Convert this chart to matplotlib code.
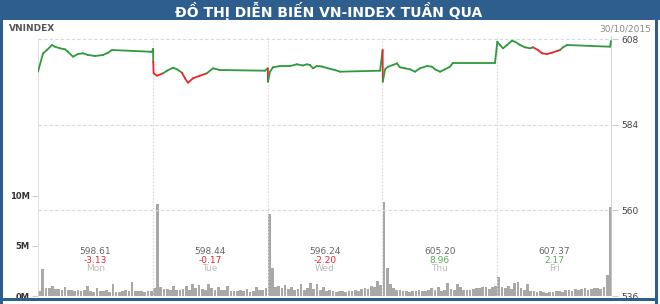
import matplotlib
matplotlib.use("Agg")
import matplotlib.pyplot as plt
from matplotlib.patches import Rectangle
from matplotlib import font_manager
import numpy as np

# ---------------- data ----------------
days = ["Mon", "Tue", "Wed", "Thu", "Fri"]
closes = ["598.61", "598.44", "596.24", "605.20", "607.37"]
changes = [-3.13, -0.17, -2.20, 8.96, 2.17]

price_ticks = [536, 560, 584, 608]
vol_ticks = [0, 5, 10]
vol_tick_labels = ["0M", "5M", "10M"]

# intraday price path per day: time as fraction of the day, price, colour flag
mon_t = [0, .044, .078, .122, .148, .192, .235, .261, .305, .348, .392, .436, .497, .566, .610, .645, .976, .993]
mon_p = [598.84, 603.99, 604.92, 606.32, 605.84, 605.39, 605.11, 604.44, 603.04, 603.80, 603.99, 603.52, 603.24, 603.52, 604.16, 604.92, 604.44, 604.36]
mon_c = ["g"] * 18

tue_t = [.002, .004, .007, .037, .089, .124, .176, .211, .254, .280, .307, .350, .411, .471, .524, .585, .977]
tue_p = [605.20, 601.56, 598.39, 597.72, 598.39, 599.12, 599.96, 599.51, 598.56, 596.99, 595.76, 596.99, 597.72, 598.39, 599.79, 599.31, 599.12]
tue_c = ["g", "g", "r", "r", "r", "g", "g", "g", "g", "r", "r", "r", "r", "r", "g", "g", "g"]

wed_t = [.002, .0035, .021, .047, .108, .195, .256, .308, .343, .369, .395, .430, .474, .526, .587, .631, .980]
wed_p = [599.79, 596.04, 598.84, 600.07, 600.43, 600.43, 600.91, 600.58, 600.91, 600.72, 599.79, 600.43, 600.29, 599.79, 599.31, 598.84, 599.12]
wed_c = ["g", "r"] + ["g"] * 15

thu_t = [.002, .0035, .023, .049, .092, .127, .153, .197, .240, .284, .328, .389, .432, .458, .502, .545, .589, .615, .981]
thu_p = [604.92, 596.04, 599.51, 600.24, 600.72, 601.19, 600.07, 599.79, 599.51, 598.84, 599.79, 600.43, 600.24, 599.51, 598.84, 599.51, 600.24, 601.36, 601.36]
thu_c = ["g", "r"] + ["g"] * 17

fri_t = [.001, .024, .051, .085, .129, .155, .199, .242, .286, .312, .355, .390, .434, .477, .521, .547, .573, .608, .983, .991]
fri_p = [607.24, 606.32, 605.39, 606.32, 607.52, 607.24, 606.32, 605.67, 605.39, 605.67, 604.92, 603.99, 603.80, 604.16, 604.64, 604.92, 605.67, 606.32, 605.84, 607.44]
fri_c = ["g"] * 10 + ["r"] * 6 + ["g"] * 4

# volume (millions of shares) per interval, 36 intervals per day
mon_v = [0.5, 2.7, 0.8, 0.75, 1.0, 0.7, 0.65, 0.6, 0.9, 0.55, 0.6, 0.5, 0.55, 0.45, 0.6, 0.95, 0.5, 0.4,
         0.8, 0.45, 0.5, 0.55, 0.4, 1.15, 0.4, 0.35, 0.45, 0.6, 0.5, 1.35, 0.45, 0.5, 0.45, 0.4, 0.5, 0.45]
tue_v = [0.8, 9.2, 0.9, 0.7, 0.65, 0.6, 0.95, 0.6, 0.55, 0.7, 1.0, 0.6, 1.15, 0.8, 1.1, 0.7, 0.6, 1.2,
         0.75, 0.6, 0.9, 0.55, 0.6, 1.0, 0.5, 0.45, 0.5, 0.55, 0.45, 0.7, 0.4, 0.5, 0.9, 0.6, 0.55, 0.8]
wed_v = [8.2, 2.8, 0.9, 1.0, 0.8, 1.1, 0.7, 0.9, 0.6, 0.7, 1.2, 0.6, 0.8, 1.3, 0.7, 1.2, 0.6, 0.9,
         0.5, 0.6, 0.45, 0.4, 0.45, 0.5, 0.4, 0.5, 0.45, 0.6, 0.5, 0.7, 0.8, 0.65, 1.0, 0.9, 1.5, 1.1]
thu_v = [9.4, 2.8, 1.2, 0.8, 0.6, 0.55, 0.5, 0.45, 0.4, 0.5, 0.45, 0.6, 0.5, 0.45, 0.6, 0.8, 0.6, 0.9,
         0.5, 0.6, 1.3, 0.7, 0.6, 1.2, 0.9, 0.6, 0.55, 0.6, 0.7, 0.8, 0.75, 0.9, 0.85, 0.7, 0.9, 1.0]
fri_v = [1.9, 0.9, 0.8, 1.0, 0.7, 1.3, 1.4, 0.8, 0.6, 1.2, 0.5, 0.45, 0.4, 0.5, 0.35, 0.3, 0.4, 0.35,
         0.45, 0.5, 0.4, 0.6, 0.55, 0.5, 0.7, 0.6, 0.65, 0.8, 0.6, 0.7, 0.75, 0.8, 0.7, 0.85, 2.1, 8.9]

# ---------------- style ----------------
W, H = 660, 304
BLUE = "#2d5e8e"
GREEN = "#2f9a3c"
RED = "#e8262b"
BAR = "#a8a8a8"
GRID = "#d9d9d9"

avail = {f.name for f in font_manager.fontManager.ttflist}
title_font = ["Liberation Sans Narrow", "DejaVu Sans"] if "Liberation Sans Narrow" in avail else ["DejaVu Sans"]
plt.rcParams["font.family"] = ["DejaVu Sans"]

fig = plt.figure(figsize=(W / 100, H / 100), dpi=100)
fig.patch.set_facecolor("white")

def fr(x0, y0, x1, y1, color):
    fig.patches.append(Rectangle((x0 / W, 1 - y1 / H), (x1 - x0) / W, (y1 - y0) / H,
                                 transform=fig.transFigure, color=color, zorder=0, linewidth=0))

# frame + title bar
fr(0, 0, W, 20, BLUE)
fr(0, 0, 3, H, BLUE)
fr(655, 0, 658, H, BLUE)
fr(0, 298, 658, 301, BLUE)

fig.text(329 / W, 1 - 10.5 / H, "ĐỒ THỊ DIỄN BIẾN VN-INDEX TUẦN QUA", ha="center", va="center",
         color="white", fontsize=10, fontweight="bold", family=title_font)
fig.text(9 / W, 1 - 28.5 / H, "VNINDEX", ha="left", va="center", color="#555555",
         fontsize=6.5, fontweight="bold")
fig.text(651 / W, 1 - 28.5 / H, "30/10/2015", ha="right", va="center", color="#8a8a8a", fontsize=6.5)

# axes
ax = fig.add_axes([38 / W, 1 - 296 / H, (612 - 38) / W, (296 - 36) / H])
ax.set_xlim(0, 5)
ax.set_ylim(0, 260 / 10.05)
ax2 = ax.twinx()
ax2.set_ylim(536, 608 + 3 / 3.569)
ax2.set_xlim(0, 5)

for a in (ax, ax2):
    for s in a.spines.values():
        s.set_visible(False)
    a.set_xticks([])
ax.set_facecolor("none")

# volume bars
for d, vols in enumerate([mon_v, tue_v, wed_v, thu_v, fri_v]):
    n = len(vols)
    xs = d + (np.arange(n) + 0.5) / n
    ax.bar(xs, vols, width=1.0 / n * 0.85, color=BAR, linewidth=0, zorder=2)

# gridlines
for p in price_ticks[1:]:
    ax2.axhline(p, color=GRID, lw=0.8, ls=(0, (3, 2)), zorder=1)
for d in range(1, 5):
    ax2.axvline(d, color=GRID, lw=0.8, ls=(0, (1.5, 1.5)), zorder=1)
ax2.axvline(0, color="#dddddd", lw=1.2, ymax=(608 - 536) / (608 + 3 / 3.569 - 536), zorder=1)
ax2.axvline(5, color="#cccccc", lw=1.2, zorder=1)

# price line
xs_all, ps_all, cs_all = [], [], []
for d, (t, p, c) in enumerate([(mon_t, mon_p, mon_c), (tue_t, tue_p, tue_c), (wed_t, wed_p, wed_c),
                               (thu_t, thu_p, thu_c), (fri_t, fri_p, fri_c)]):
    xs_all += [d + v for v in t]
    ps_all += p
    cs_all += c
for i in range(1, len(xs_all)):
    col = GREEN if cs_all[i] == "g" else RED
    ax2.plot([xs_all[i - 1], xs_all[i]], [ps_all[i - 1], ps_all[i]], color=col, lw=1.3,
             solid_capstyle="round", zorder=4)

# ticks
ax.set_yticks(vol_ticks)
ax.set_yticklabels(vol_tick_labels)
ax.tick_params(axis="y", length=4, width=0.8, color="#cccccc", pad=2, labelsize=6, labelcolor="#333333")
for lbl in ax.get_yticklabels():
    lbl.set_fontweight("bold")
ax2.set_yticks(price_ticks)
ax2.set_yticklabels([str(v) for v in price_ticks])
ax2.tick_params(axis="y", length=4, width=0.8, color="#cccccc", pad=3, labelsize=6.5, labelcolor="#444444")

# day summaries
for d in range(5):
    cx = d + 0.5
    chg_col = RED if changes[d] < 0 else "#5aab5a"
    ax.text(cx, 0.171, closes[d], transform=ax.get_xaxis_transform(), ha="center", va="center",
            fontsize=6.5, color="#666666", zorder=5)
    ax.text(cx, 0.1365, f"{changes[d]:.2f}", transform=ax.get_xaxis_transform(), ha="center",
            va="center", fontsize=6.5, color=chg_col, zorder=5)
    ax.text(cx, 0.104, days[d], transform=ax.get_xaxis_transform(), ha="center", va="center",
            fontsize=6.5, color="#bbbbbb", zorder=5)

fig.savefig("out.png", dpi=100)
